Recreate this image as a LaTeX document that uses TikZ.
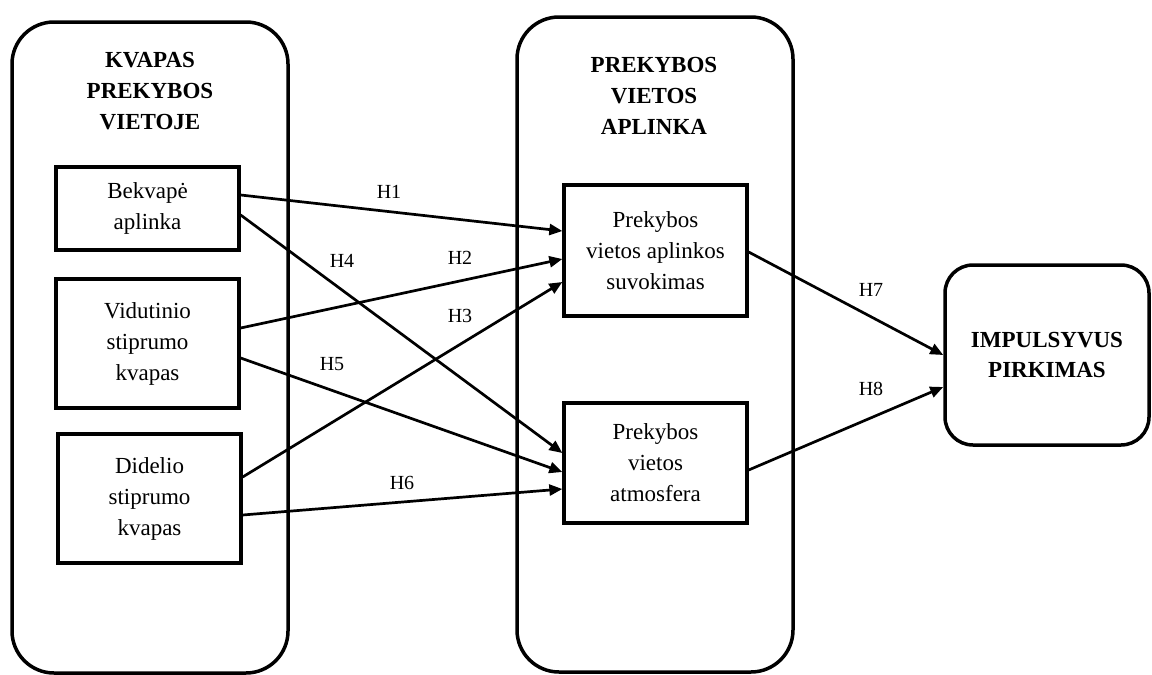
\documentclass[tikz,border=0pt]{standalone}
\usepackage{fontspec}
\setmainfont{Liberation Serif}
\usetikzlibrary{arrows.meta}
\begin{document}
\begin{tikzpicture}[x=1pt,y=-1pt,
  big/.style={draw, line width=3.5pt, rounded corners=42pt, inner sep=0pt},
  box/.style={draw, line width=3.3pt, inner sep=0pt, align=center, font=\fontsize{23}{31}\selectfont, minimum width=183pt},
  ttl/.style={align=center, inner sep=0pt, font=\fontsize{23}{31}\selectfont\bfseries},
  lbl/.style={font=\fontsize{20}{24}\selectfont, inner sep=0pt},
  arr/.style={-{Triangle[length=13pt,width=11pt]}, line width=2.7pt}
]
\useasboundingbox (0,0) rectangle (1152,675);
% containers
\node[big, minimum width=276pt, minimum height=651pt] (L) at (150,347.5) {};
\node[big, minimum width=276pt, minimum height=655pt] (M) at (655,344.5) {};
\node[big, rounded corners=28pt, minimum width=204pt, minimum height=180pt, align=center, font=\fontsize{23}{30}\selectfont\bfseries] (R) at (1047,355) {IMPULSYVUS\\PIRKIMAS};
% titles
\node[ttl] (tL) at (150,91) {KVAPAS\\PREKYBOS\\VIETOJE};
\node[ttl] (tM) at (654,96) {PREKYBOS\\VIETOS\\APLINKA};
% boxes
\node[box, minimum height=83pt] (bek) at (147.5,208.5) {Bekvapė\\aplinka};
\node[box, minimum height=129pt] (vid) at (147.5,343.5) {Vidutinio\\stiprumo\\kvapas};
\node[box, minimum height=129pt] (did) at (149.5,498.5) {Didelio\\stiprumo\\kvapas};
\node[box, minimum height=131pt] (suv) at (655.5,250.5) {Prekybos\\vietos aplinkos\\suvokimas};
\node[box, minimum height=120pt] (atm) at (655.5,463) {Prekybos\\vietos\\atmosfera};
% arrows
\draw[arr] ([yshift=13.5pt]bek.east) -- ([yshift=19.5pt]suv.west);
\draw[arr] ([yshift=-6.5pt]bek.east) -- ([yshift=10pt]atm.west);
\draw[arr] ([yshift=15.5pt]vid.east) -- ([yshift=-8.5pt]suv.west);
\draw[arr] ([yshift=-14.5pt]vid.east) -- ([yshift=-9pt]atm.west);
\draw[arr] ([yshift=21.5pt]did.east) -- ([yshift=-31.5pt]suv.west);
\draw[arr] ([yshift=-16.5pt]did.east) -- ([yshift=-26pt]atm.west);
\draw[arr] ([yshift=-1.5pt]suv.east) -- (R.west);
\draw[arr] ([yshift=-7pt]atm.east) -- ([yshift=-32pt]R.west);
% labels
\node[lbl] (h1) at (389,192) {H1};
\node[lbl] (h2) at (460,258) {H2};
\node[lbl] (h3) at (460,316) {H3};
\node[lbl] (h4) at (342,261) {H4};
\node[lbl] (h5) at (332,364) {H5};
\node[lbl] (h6) at (402,483) {H6};
\node[lbl] (h7) at (871,290) {H7};
\node[lbl] (h8) at (871,389) {H8};
\end{tikzpicture}
\end{document}
